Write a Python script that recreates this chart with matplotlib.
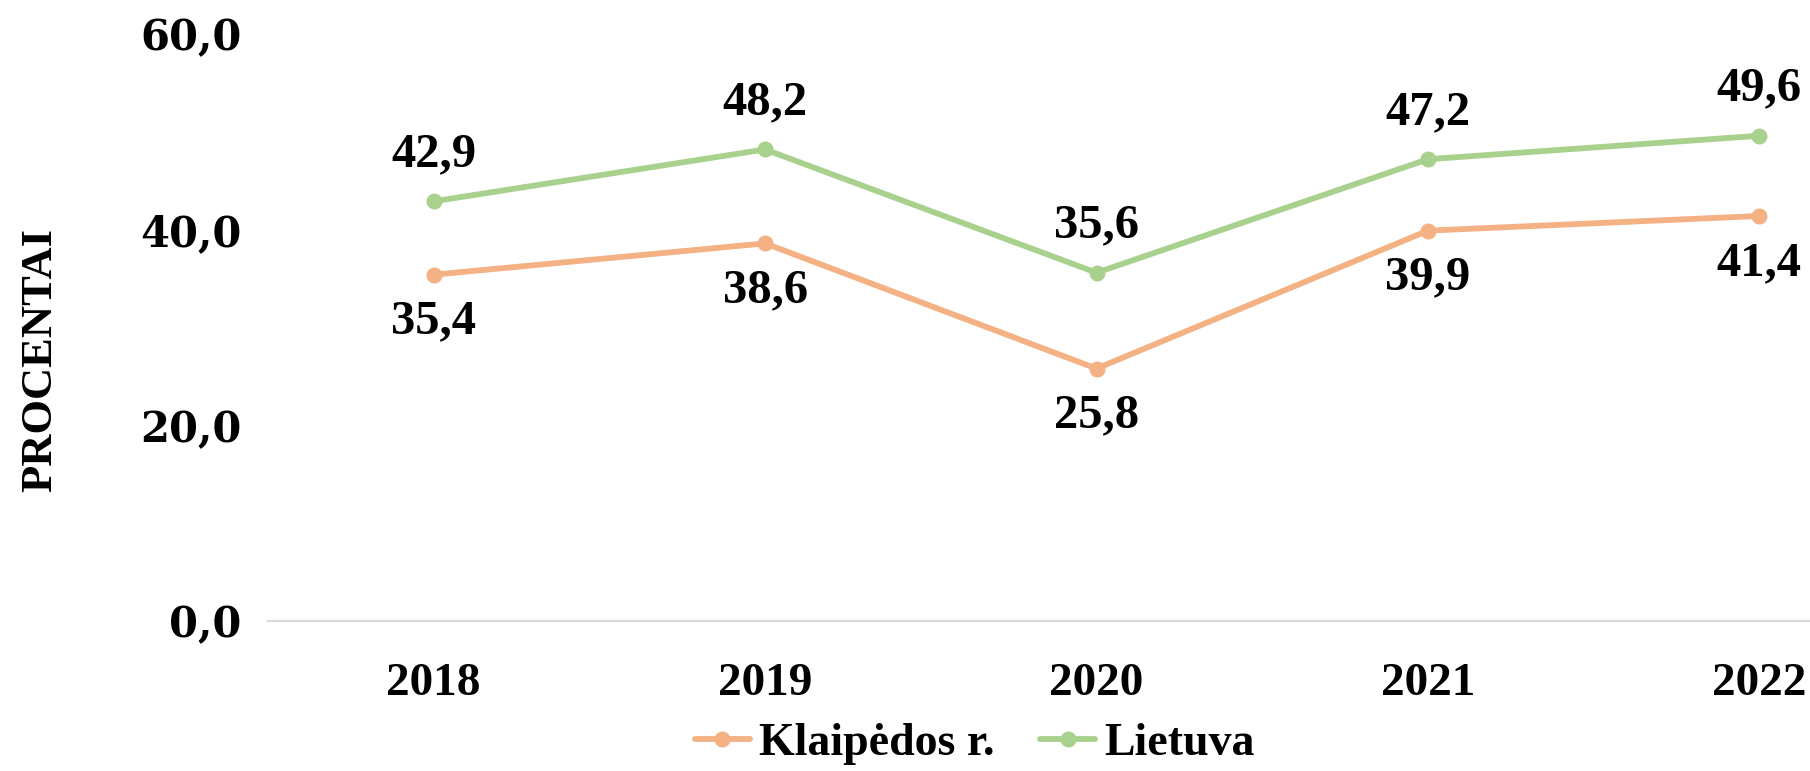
import matplotlib
matplotlib.use('Agg')
import matplotlib.pyplot as plt

years = ['2018', '2019', '2020', '2021', '2022']
klaipedos = [35.4, 38.6, 25.8, 39.9, 41.4]
lietuva = [42.9, 48.2, 35.6, 47.2, 49.6]
yticks = [0, 20, 40, 60]

ORANGE = '#F4B183'
GREEN = '#A9D18E'
SERIF = 'Liberation Serif'

fig = plt.figure(figsize=(18.1, 7.71), dpi=100)
# axes runs past the right edge, like the original
ax = fig.add_axes([268 / 1810, 150 / 771, 1657 / 1810, 587 / 771])

x = list(range(len(years)))
ax.plot(x, klaipedos, color=ORANGE, lw=4.2, marker='o', ms=10.5,
        label='Klaipėdos r.', solid_capstyle='round')
ax.plot(x, lietuva, color=GREEN, lw=4.2, marker='o', ms=10.5,
        label='Lietuva', solid_capstyle='round')

# Data labels
for i in x:
    ax.annotate(f'{lietuva[i]:.1f}'.replace('.', ','), (i, lietuva[i]),
                xytext=(0, 47), textcoords='offset pixels', ha='center', va='center',
                fontsize=35, fontweight='bold', family=SERIF)
    ax.annotate(f'{klaipedos[i]:.1f}'.replace('.', ','), (i, klaipedos[i]),
                xytext=(0, -47), textcoords='offset pixels', ha='center', va='center',
                fontsize=35, fontweight='bold', family=SERIF)

ax.set_xlim(-0.5, 4.5)
ax.set_ylim(0, 60)
ax.set_xticks(x)
ax.set_xticklabels(years, fontsize=34, fontweight='bold', family=SERIF)
ax.set_yticks(yticks)
ax.set_yticklabels([f'{v:.1f}'.replace('.', ',') for v in yticks],
                   fontsize=30, fontweight='bold', family='DejaVu Serif')
ax.tick_params(axis='both', length=0)
ax.tick_params(axis='x', pad=30)
ax.tick_params(axis='y', pad=19)

for side in ['top', 'right', 'left']:
    ax.spines[side].set_visible(False)
ax.spines['bottom'].set_color('#D9D9D9')
ax.spines['bottom'].set_linewidth(1.5)

fig.text(40 / 1810, 1 - 360 / 771, 'PROCENTAI', rotation=90, ha='center', va='center',
         fontsize=32, fontweight='bold', family=SERIF)

fig.legend(loc='center', bbox_to_anchor=(975 / 1810, 1 - 744 / 771), ncol=2,
           frameon=False, prop={'family': SERIF, 'weight': 'bold', 'size': 33},
           handlelength=1.2, handletextpad=0.2, columnspacing=1.0)

fig.savefig('out.png', dpi=100)
